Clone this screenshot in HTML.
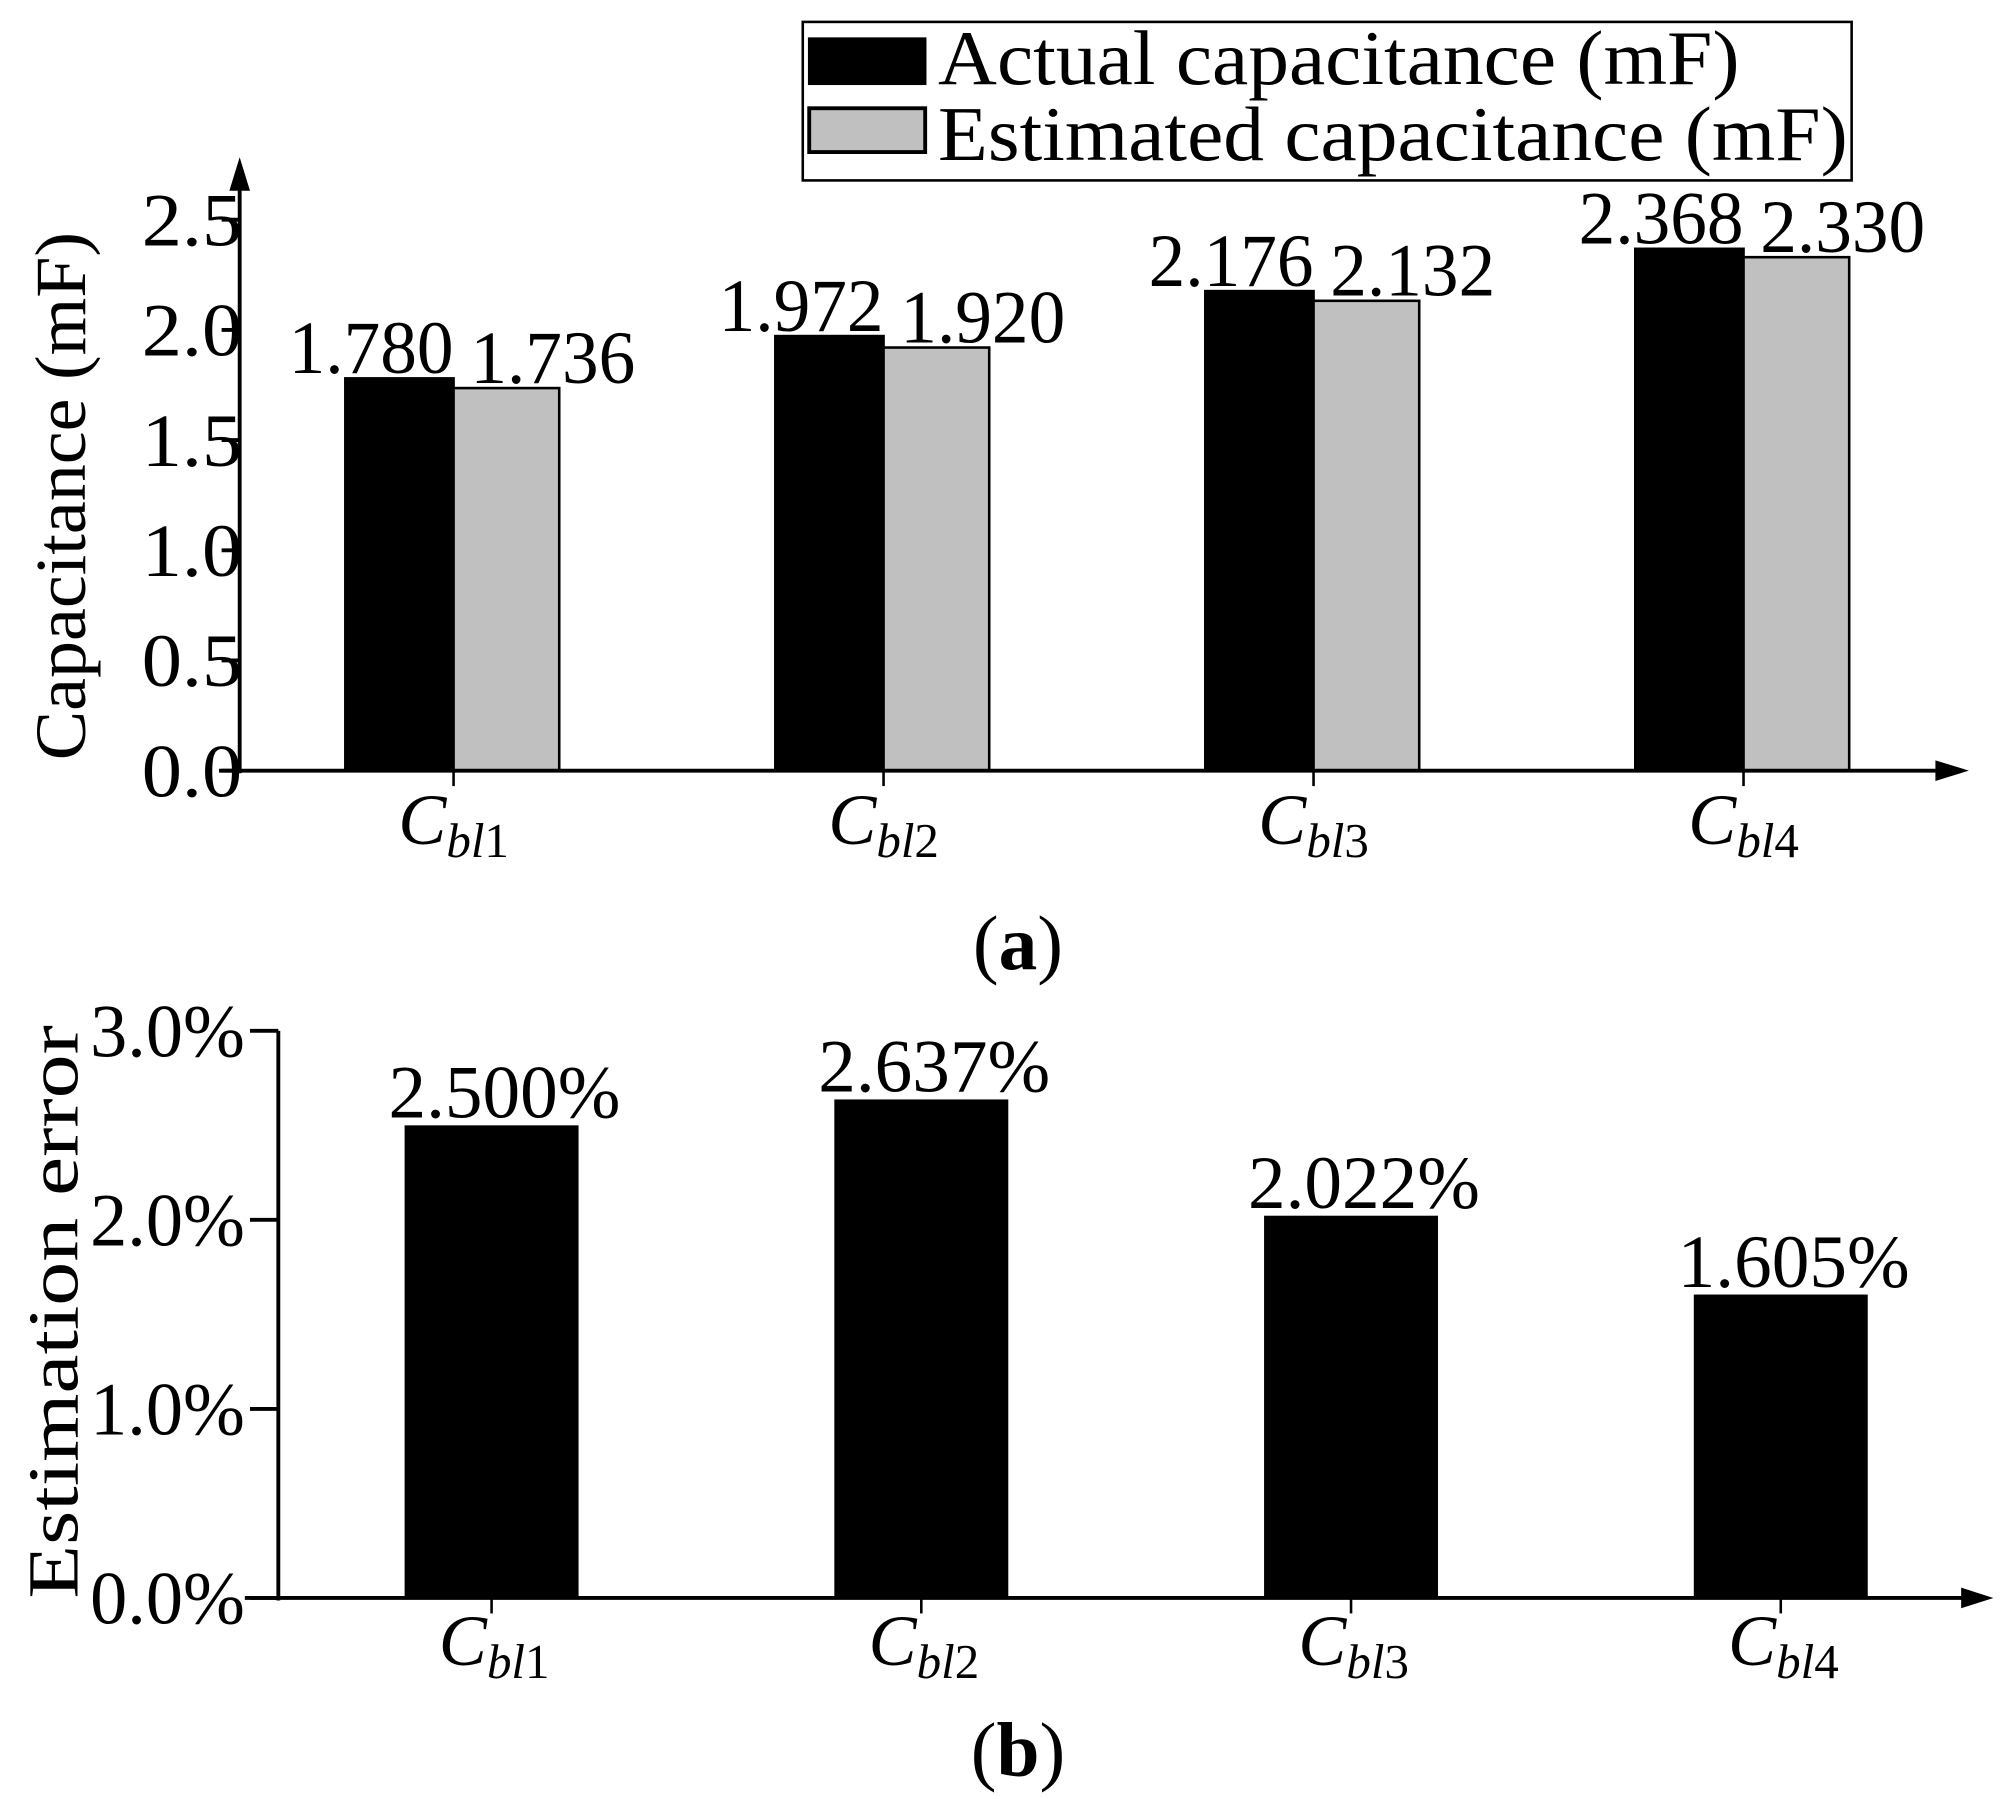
<!DOCTYPE html>
<html><head><meta charset="utf-8"><style>
html,body{margin:0;padding:0;background:#fff;}
svg{display:block;font-family:"Liberation Serif",serif;}
</style></head><body>
<svg id="fig" width="2014" height="1799" viewBox="0 0 1563 1396" preserveAspectRatio="none" xmlns="http://www.w3.org/2000/svg">
<g id="chartA"></g>
<g id="chartB"></g>
</svg>
<script>
const categories = ["1","2","3","4"];
const actualValues = [1.780, 1.972, 2.176, 2.368];
const estimatedValues = [1.736, 1.920, 2.132, 2.330];
const actualLabels = ["1.780","1.972","2.176","2.368"];
const estimatedLabels = ["1.736","1.920","2.132","2.330"];
const ticksA = [0.0, 0.5, 1.0, 1.5, 2.0, 2.5];
const tickLabelsA = ["0.0","0.5","1.0","1.5","2.0","2.5"];
const errorValues = [2.500, 2.637, 2.022, 1.605];
const errorLabels = ["2.500%","2.637%","2.022%","1.605%"];
const ticksB = [0, 1, 2, 3];
const tickLabelsB = ["0.0%","1.0%","2.0%","3.0%"];

const NS = "http://www.w3.org/2000/svg";
function mk(parent, tag, attrs, text){
  const e = document.createElementNS(NS, tag);
  for (const k in attrs) e.setAttribute(k, attrs[k]);
  if (text !== undefined) e.textContent = text;
  parent.appendChild(e); return e;
}
function catLabel(g, cx, y, idx, name){
  const t = mk(g, "text", {x: cx, y: y, "text-anchor": "middle", "font-size": 56});
  
  
  mk(t, "tspan", {"font-style": "italic"}, "C");
  mk(t, "tspan", {"font-style": "italic", "font-size": 38, dy: 10}, "bl");
  mk(t, "tspan", {"font-size": 38}, categories[idx]);
}

// ---- Chart A ----
const A = document.getElementById("chartA");
const aY0 = 598, aPer = 171;
const yA = v => aY0 - v * aPer;
const aX0 = 352, aStep = 333.7, bw = 84;
const xA = i => aX0 + i * aStep;

actualValues.forEach((v, i) => {
  const r = mk(A, "rect", {x: xA(i) - bw, y: yA(v), width: bw, height: aY0 - yA(v), fill: "#000", stroke: "#000", "stroke-width": 2});
  
  
  const t = mk(A, "text", {x: xA(i) - bw/2 - 22, y: yA(v) - 4, "text-anchor": "middle", "font-size": 58, textLength: 128, lengthAdjust: "spacingAndGlyphs"}, actualLabels[i]);
  
  
});
estimatedValues.forEach((v, i) => {
  const r = mk(A, "rect", {x: xA(i), y: yA(v), width: bw - 2, height: aY0 - yA(v), fill: "#c0c0c0", stroke: "#000", "stroke-width": 2});
  
  
  const t = mk(A, "text", {x: xA(i) + bw/2 + 35, y: yA(v) - 4, "text-anchor": "middle", "font-size": 58, textLength: 128, lengthAdjust: "spacingAndGlyphs"}, estimatedLabels[i]);
  
  
});
let ax = mk(A, "line", {x1: 186, y1: aY0 + 2, x2: 186, y2: 140, stroke: "#000", "stroke-width": 3});
 
mk(A, "polygon", {points: "178,148 194,148 186,122", fill: "#000"});
ax = mk(A, "line", {x1: 170, y1: aY0, x2: 1510, y2: aY0, stroke: "#000", "stroke-width": 3});
 
mk(A, "polygon", {points: "1502,590 1502,606 1528,598", fill: "#000"});
ticksA.forEach((v, i) => {
  mk(A, "line", {x1: 172, y1: yA(v), x2: 186, y2: yA(v), stroke: "#000", "stroke-width": 3});
  const t = mk(A, "text", {x: 188, y: yA(v) + 20, "text-anchor": "end", "font-size": 58, textLength: 78, lengthAdjust: "spacingAndGlyphs"}, tickLabelsA[i]);
  
  
});
categories.forEach((c, i) => {
  mk(A, "line", {x1: xA(i), y1: aY0, x2: xA(i), y2: aY0 + 12, stroke: "#000", "stroke-width": 2});
  catLabel(A, xA(i), 655, i, 'x-category-label-a');
});
let tt = mk(A, "text", {x: 0, y: 0, transform: "translate(66,385) rotate(-90)", "text-anchor": "middle", "font-size": 56, textLength: 410, lengthAdjust: "spacingAndGlyphs"}, "Capacitance (mF)");
 
const L = mk(A, "g", {});
 
mk(L, "rect", {x: 623, y: 17, width: 814, height: 123, fill: "#fff", stroke: "#000", "stroke-width": 2});
mk(L, "rect", {x: 628, y: 30, width: 90, height: 35, fill: "#000", stroke: "#000", "stroke-width": 2});
mk(L, "rect", {x: 628, y: 84, width: 90, height: 34, fill: "#c0c0c0", stroke: "#000", "stroke-width": 3});
let le = mk(L, "text", {x: 728, y: 65, "font-size": 60, textLength: 622, lengthAdjust: "spacingAndGlyphs"}, "Actual capacitance (mF)");
 
le = mk(L, "text", {x: 728, y: 124, "font-size": 60, textLength: 706, lengthAdjust: "spacingAndGlyphs"}, "Estimated capacitance (mF)");
 
let pa = mk(A, "text", {x: 790, y: 752, "text-anchor": "middle", "font-size": 60});
 
mk(pa, "tspan", {}, "(");
mk(pa, "tspan", {"font-weight": "bold"}, "a");
mk(pa, "tspan", {}, ")");

// ---- Chart B ----
const B = document.getElementById("chartB");
const bY0 = 1240, bPer = 146.7;
const yB = v => bY0 - v * bPer;
const bX0 = 381.5, bStep = 333.5, bbw = 135;
const xB = i => bX0 + i * bStep;
errorValues.forEach((v, i) => {
  const r = mk(B, "rect", {x: xB(i) - bbw/2, y: yB(v), width: bbw, height: bY0 - yB(v), fill: "#000"});
  
  
  const t = mk(B, "text", {x: xB(i) + 10, y: yB(v) - 6, "text-anchor": "middle", "font-size": 58, textLength: 180, lengthAdjust: "spacingAndGlyphs"}, errorLabels[i]);
  
  
});
ax = mk(B, "line", {x1: 216, y1: bY0 + 2, x2: 216, y2: yB(3), stroke: "#000", "stroke-width": 3});
 
ax = mk(B, "line", {x1: 190, y1: bY0, x2: 1530, y2: bY0, stroke: "#000", "stroke-width": 3});
 
mk(B, "polygon", {points: "1522,1232 1522,1248 1547,1240", fill: "#000"});
ticksB.forEach((v, i) => {
  mk(B, "line", {x1: 194, y1: yB(v), x2: 216, y2: yB(v), stroke: "#000", "stroke-width": 3});
  const t = mk(B, "text", {x: 190, y: yB(v) + 20, "text-anchor": "end", "font-size": 58, textLength: 120, lengthAdjust: "spacingAndGlyphs"}, tickLabelsB[i]);
  
  
});
categories.forEach((c, i) => {
  mk(B, "line", {x1: xB(i), y1: bY0, x2: xB(i), y2: bY0 + 12, stroke: "#000", "stroke-width": 2});
  catLabel(B, xB(i) + 2, 1292, i, 'x-category-label-b');
});
tt = mk(B, "text", {x: 0, y: 0, transform: "translate(60,1018) rotate(-90)", "text-anchor": "middle", "font-size": 56, textLength: 445, lengthAdjust: "spacingAndGlyphs"}, "Estimation error");
 
let pb = mk(B, "text", {x: 790, y: 1378, "text-anchor": "middle", "font-size": 60});
 
mk(pb, "tspan", {}, "(");
mk(pb, "tspan", {"font-weight": "bold"}, "b");
mk(pb, "tspan", {}, ")");
</script>
</body></html>
